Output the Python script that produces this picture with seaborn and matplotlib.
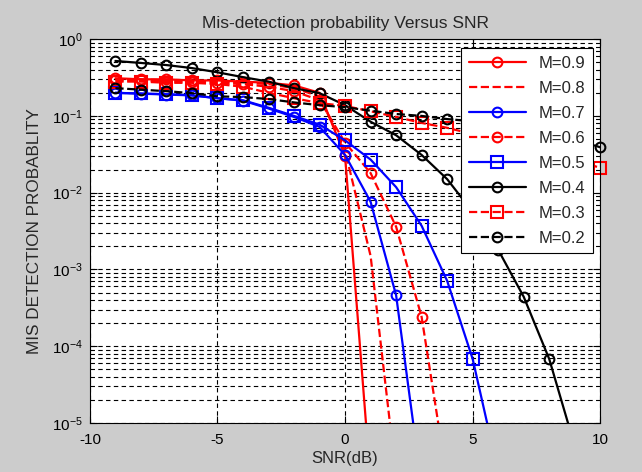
import numpy as np
import pandas as pd
import matplotlib
matplotlib.use("Agg")
import matplotlib.pyplot as plt
import seaborn as sns
from matplotlib.ticker import LogLocator, FixedLocator

sns.set_style("white")
plt.rcParams['font.family'] = ['Liberation Sans', 'DejaVu Sans']
plt.rcParams['mathtext.fontset'] = 'custom'
plt.rcParams['mathtext.rm'] = 'Liberation Sans'
plt.rcParams['mathtext.it'] = 'Liberation Sans'
plt.rcParams['axes.unicode_minus'] = False

# ---- data ----
snr = [-9, -8, -7, -6, -5, -4, -3, -2, -1, 0, 1, 2, 3, 4, 5, 6, 7, 8, 9, 10]

m09 = [0.31, 0.30, 0.30, 0.29, 0.29, 0.28, 0.27, 0.25, 0.20, 0.030, 1.7e-6]
m08 = [0.30, 0.30, 0.29, 0.29, 0.28, 0.27, 0.26, 0.23, 0.18, 0.035, 1.5e-3, 2e-6]
m07 = [0.20, 0.195, 0.19, 0.185, 0.17, 0.158, 0.125, 0.097, 0.072, 0.031, 7.6e-3, 4.6e-4, 1.5e-6]
m06 = [0.29, 0.29, 0.28, 0.28, 0.27, 0.26, 0.24, 0.21, 0.16, 0.045, 0.018, 3.6e-3, 2.4e-4, 1.8e-6]
m05 = [0.20, 0.196, 0.192, 0.186, 0.17, 0.16, 0.128, 0.10, 0.077, 0.048, 0.027, 0.0118, 3.7e-3, 7.1e-4, 6.8e-5, 2.3e-6]
m04 = [0.52, 0.49, 0.46, 0.42, 0.37, 0.32, 0.28, 0.23, 0.198, 0.138, 0.084, 0.056, 0.031, 0.015, 5.6e-3, 1.8e-3, 4.4e-4, 6.8e-5, 5e-6, 2e-7]
m03 = [0.28, 0.28, 0.27, 0.27, 0.26, 0.24, 0.20, 0.17, 0.147, 0.135, 0.115, 0.097, 0.081, 0.070, 0.058, 0.048, 0.040, 0.033, 0.027, 0.021]
m02 = [0.23, 0.22, 0.21, 0.198, 0.18, 0.176, 0.166, 0.15, 0.138, 0.13, 0.117, 0.106, 0.10, 0.091, 0.085, 0.078, 0.070, 0.060, 0.050, 0.039]

labels = ["M=0.9", "M=0.8", "M=0.7", "M=0.6", "M=0.5", "M=0.4", "M=0.3", "M=0.2"]
series = [m09, m08, m07, m06, m05, m04, m03, m02]
colors = ["#ff0000", "#ff0000", "#0000ff", "#ff0000", "#0000ff", "#000000", "#ff0000", "#000000"]
styles = ["-", "--", "-", "--", "-", "-", "--", "--"]
markers = ["o", None, "o", "o", "s", "o", "s", "o"]

xticks = [-10, -5, 0, 5, 10]

fig = plt.figure(figsize=(6.42, 4.72), dpi=100, facecolor="#cccccc")
ax = fig.add_axes([0.140, 0.104, 0.795, 0.813])
ax.set_facecolor("white")

for lab, vals, c, ls, mk in zip(labels, series, colors, styles, markers):
    df = pd.DataFrame({"snr": snr[:len(vals)], "p": vals})
    kw = dict(color=c, linestyle=ls, linewidth=1.6, label=lab)
    if mk is not None:
        kw.update(marker=mk, markersize=7 if mk == "o" else 8,
                  markerfacecolor="none", markeredgecolor=c, markeredgewidth=1.5)
    sns.lineplot(data=df, x="snr", y="p", ax=ax, estimator=None, sort=False, **kw)
    if lab in ("M=0.3", "M=0.2"):
        ax.lines[-1].set_clip_on(False)

ax.set_yscale("log")
ax.set_xlim(-10, 10)
ax.set_ylim(1e-5, 1)
ax.xaxis.set_major_locator(FixedLocator(xticks))
ax.yaxis.set_major_locator(LogLocator(base=10, numticks=10))
ax.yaxis.set_minor_locator(LogLocator(base=10, subs=np.arange(2, 10), numticks=20))

grid_kw = dict(color="black", linestyle=(0, (4, 3)), linewidth=0.8)
ax.grid(True, which="major", axis="both", **grid_kw)
ax.grid(True, which="minor", axis="y", **grid_kw)
ax.set_axisbelow(True)

for s in ax.spines.values():
    s.set_visible(True)
    s.set_color("black")
    s.set_linewidth(0.8)

ax.tick_params(axis="both", which="both", direction="in", top=True, right=True,
               bottom=True, left=True, colors="black", labelsize=11)
ax.tick_params(which="major", length=5)
ax.tick_params(which="minor", length=3)
ax.tick_params(axis="x", which="major", pad=7)
ax.tick_params(axis="y", which="major", pad=5)

ax.set_title("Mis-detection probability Versus SNR", fontsize=12.5, pad=8)
ax.set_xlabel("SNR(dB)", fontsize=12, labelpad=3)
ax.set_ylabel("MIS DETECTION PROBABLITY", fontsize=12.3, labelpad=7)

leg = ax.legend(loc="upper right", fontsize=12, handlelength=3.4, labelspacing=0.6,
                frameon=True, fancybox=False, edgecolor="black", framealpha=1,
                borderpad=0.45, handletextpad=0.8, borderaxespad=0,
                bbox_to_anchor=(0.986, 0.977))
leg.get_frame().set_linewidth(0.8)

fig.savefig("out.png", dpi=100, facecolor=fig.get_facecolor())
